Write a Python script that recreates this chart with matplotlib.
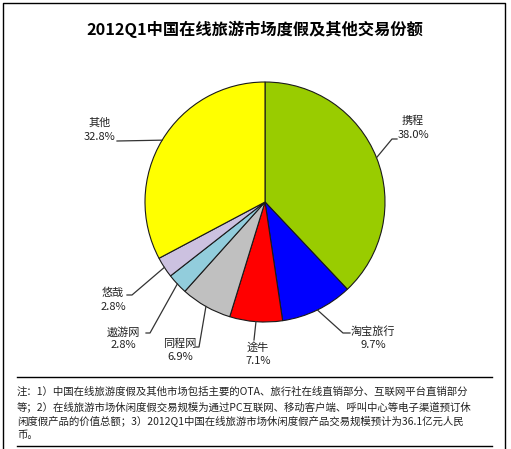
import numpy as np
import matplotlib
matplotlib.use('Agg')
import matplotlib.pyplot as plt

plt.rcParams['font.family'] = ['Noto Sans CJK SC', 'DejaVu Sans']

# data
names = ['携程', '淘宝旅行', '途牛', '同程网', '遨游网', '悠哉', '其他']
shares = [38.0, 9.7, 7.1, 6.9, 2.8, 2.8, 32.8]
colors = ['#99CC00', '#0000FF', '#FF0000', '#C0C0C0', '#92CDDC', '#CCC1E0', '#FFFF00']

title = '2012Q1中国在线旅游市场度假及其他交易份额'
notes = [
    '注：1）中国在线旅游度假及其他市场包括主要的OTA、旅行社在线直销部分、互联网平台直销部分',
    '等；2）在线旅游市场休闲度假交易规模为通过PC互联网、移动客户端、呼叫中心等电子渠道预订休',
    '闲度假产品的价值总额；3）2012Q1中国在线旅游市场休闲度假产品交易规模预计为36.1亿元人民',
    '币。',
]

# layout in pixels (y down): elbow point, line end, label centre
elbows = [(392, 139), (343, 333), (254, 340), (199, 347), (150, 333), (132, 295), (117, 141)]
ends = [(397, 139), (350, 333), (254, 340), (196, 347), (146, 333), (127, 295), (117, 141)]
label_pos = [(413, 121), (373, 331), (258, 347), (180, 344), (123, 332), (113, 293), (100, 123)]

W, H = 511, 449
cx, cy, r = 265, 202, 120

fig = plt.figure(figsize=(W / 100, H / 100), dpi=100)
ax = fig.add_axes([0, 0, 1, 1])

# y axis inverted, so counterclockwise from -90 reads clockwise from the top
wedges, _ = ax.pie(shares, colors=colors, startangle=-90, counterclock=True,
                   center=(cx, cy), radius=r, frame=True,
                   wedgeprops=dict(edgecolor='#1a1a1a', linewidth=0.8))
ax.set_xlim(0, W)
ax.set_ylim(H, 0)
ax.set_aspect('auto')
ax.axis('off')

for w, name, val, el, en, lp in zip(wedges, names, shares, elbows, ends, label_pos):
    mid = np.deg2rad((w.theta1 + w.theta2) / 2)
    px, py = cx + r * np.cos(mid), cy + r * np.sin(mid)
    ax.plot([px, el[0], en[0]], [py, el[1], en[1]], color='#333333', lw=0.9)
    ax.text(lp[0], lp[1], name, ha='center', va='center', fontsize=8, color='#222222')
    ax.text(lp[0], lp[1] + 13.5, f'{val:.1f}%', ha='center', va='center',
            fontsize=8, color='#222222')

ax.text(255, 29, title, ha='center', va='center', fontsize=11.7, fontweight='bold',
        color='black')

# outer frame and note rules
ax.plot([3, 3, 505, 505], [449, 3, 3, 449], color='black', lw=1)
ax.plot([17, 492], [377, 377], color='black', lw=1)
ax.plot([17, 492], [446, 446], color='black', lw=1)

for i, line in enumerate(notes):
    ax.text(17, 392 + i * 14.3, line, ha='left', va='center', fontsize=7.5,
            color='#222222')

fig.savefig('out.png', dpi=100)
